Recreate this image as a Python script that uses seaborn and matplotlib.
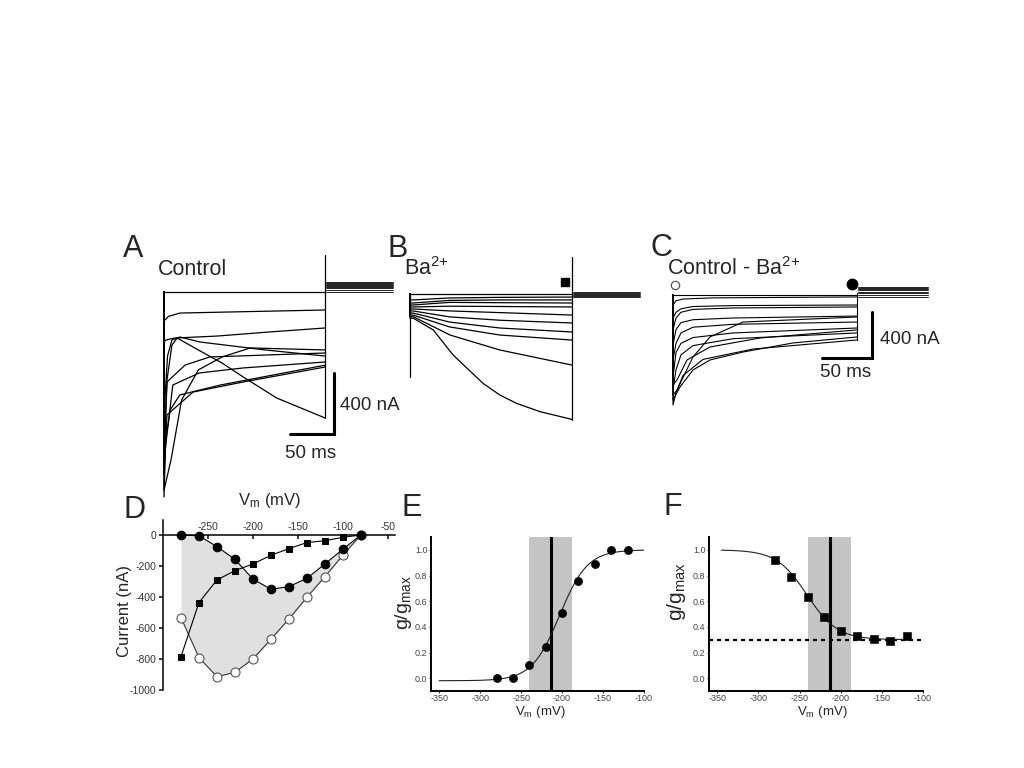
import numpy as np
import matplotlib
matplotlib.use("Agg")
import matplotlib.pyplot as plt
import seaborn as sns

# ---- traces (time in ms, current in nA) ----
A_TIMES = [
    [0, 183],
    [0, 1, 5, 18, 75, 183],
    [0, 2, 12, 60, 120, 183],
    [0, 1, 4, 9, 18, 41, 115, 183],
    [0, 3.4, 24, 52, 183],
    [0, 10, 40, 90, 183],
    [0, 3.4, 33, 90, 183],
    [0, 3.4, 9, 15, 39, 66, 90, 128, 183],
    [0, 8, 15, 20, 39, 66, 98, 183],
    [0, 2, 7, 18, 64, 183],
]
A_CURRENTS = [
    [0, 0],
    [-190, -184, -160, -138, -131, -118],
    [-330, -315, -302, -289, -262, -236],
    [-900, -708, -420, -315, -295, -328, -380, -420],
    [-1000, -590, -479, -426, -400],
    [-1100, -610, -531, -498, -459],
    [-1200, -806, -656, -590, -492],
    [-1170, -577, -348, -302, -380, -466, -557, -695, -826],
    [-1300, -1100, -872, -708, -511, -426, -367, -380],
    [-1344, -970, -773, -675, -610, -480],
]
A_TAILS = [66, 59, 52, 46, 39, 33, 26, 13, 0]
A_STEP_ARTIFACT = [243, -826]

B_TIMES = [
    [0, 184],
    [0, 3.4, 45, 102, 184],
    [0, 3.4, 45, 102, 184],
    [0, 3.4, 45, 102, 184],
    [0, 3.4, 45, 102, 184],
    [0, 3.4, 45, 102, 184],
    [0, 3.4, 45, 102, 184],
    [0, 3.4, 45, 102, 184],
    [0, 3.4, 45, 102, 184],
    [0, 3.8, 45.5, 102, 184],
    [0, 3.8, 26.5, 49, 83, 102, 121, 148, 184],
]
B_CURRENTS = [
    [0, 0],
    [-39, -39, -26, -22, -20],
    [-59, -59, -42, -39, -39],
    [-72, -72, -55, -57, -59],
    [-85, -85, -80, -82, -85],
    [-98, -98, -111, -122, -138],
    [-111, -111, -150, -172, -190],
    [-125, -125, -184, -223, -249],
    [-138, -138, -216, -269, -302],
    [-149, -149, -269, -367, -466],
    [-159, -159, -236, -400, -586, -662, -717, -772, -822],
]
B_TAILS = [10, 5, 0, -6, -12, -20]
B_ONSET_ARTIFACT = [0, -544]
B_STEP_ARTIFACT = [243, -826]

C_TIMES = [
    [0, 184],
    [0, 3, 10, 40, 184],
    [0, 3, 8, 20, 60, 184],
    [0, 3, 8, 20, 60, 184],
    [0, 3, 8, 20, 60, 184],
    [0, 3, 8, 20, 60, 184],
    [0, 4, 20, 37, 70, 184],
    [0, 3, 8, 20, 60, 184],
    [0, 3, 8, 20, 60, 184],
    [0, 7, 20, 37, 70, 120, 184],
    [0, 4, 14, 37, 87, 184],
    [0, 3, 10, 30, 80, 184],
]
C_CURRENTS = [
    [0, 0],
    [-87, -50, -35, -25, -17],
    [-200, -150, -120, -100, -92, -87],
    [-304, -200, -150, -125, -113, -104],
    [-435, -300, -240, -215, -200, -183],
    [-565, -420, -330, -280, -255, -235],
    [-870, -826, -539, -365, -235, -191],
    [-713, -500, -420, -370, -330, -287],
    [-826, -650, -520, -440, -380, -330],
    [-913, -800, -652, -565, -496, -417, -365],
    [-780, -739, -565, -452, -374, -304],
    [-957, -850, -700, -560, -470, -391],
]
C_TAILS = [70, 61, 52, 43, 30, 17, 0, -17]
C_STEP_ARTIFACT = [17, -391]

# ---- I-V (panel D) ----
D_V = [-280, -260, -240, -220, -200, -180, -160, -140, -120, -100, -80]
D_FILLED = [0, -5, -75, -157, -284, -350, -333, -280, -187, -92, 0]
D_SQUARE = [-785, -436, -290, -230, -187, -131, -88, -49, -37, -15, 0]
D_OPEN = [-533, -791, -914, -886, -800, -673, -542, -402, -269, -131, 0]

# ---- activation / inactivation (panels E, F) ----
E_V = [-280, -260, -240, -220, -200, -180, -160, -140, -120]
E_G = [0.0, 0.0, 0.10, 0.24, 0.51, 0.76, 0.89, 1.0, 1.0]
F_V = [-280, -260, -240, -220, -200, -180, -160, -140, -120]
F_G = [0.917, 0.787, 0.636, 0.48, 0.366, 0.332, 0.306, 0.288, 0.327]
E_FIT = dict(bottom=-0.02, top=1.0, vhalf=-203, k=17)
F_FIT = dict(bottom=0.30, top=1.0, vhalf=-241, k=18.5)
VHALF_LINE = -213
VHALF_BAND = (-240, -188)
F_RESIDUAL = 0.3

sns.set_theme(style="ticks")
plt.rcParams["font.family"] = ["Liberation Sans", "DejaVu Sans"]
plt.rcParams["mathtext.fontset"] = "custom"
plt.rcParams["mathtext.rm"] = "Liberation Sans"
plt.rcParams["mathtext.it"] = "Liberation Sans"
plt.rcParams["axes.unicode_minus"] = False

W, H = 1024, 768
fig = plt.figure(figsize=(W / 100, H / 100), dpi=100)
fig.patch.set_facecolor("white")


def box(x0, y0, x1, y1):
    return fig.add_axes([x0 / W, 1 - y1 / H, (x1 - x0) / W, (y1 - y0) / H])


def trace_axes(x0, y0, x1, y1, ox, oy, px_ms, px_na):
    ax = box(x0, y0, x1, y1)
    ax.set_xlim((x0 - ox) / px_ms, (x1 - ox) / px_ms)
    ax.set_ylim(-(y1 - oy) / px_na, -(y0 - oy) / px_na)
    ax.axis("off")
    return ax


def draw_traces(ax, times, currents, tails, tail_span, step_artifact, lw=0.9):
    for t, i in zip(times, currents):
        ax.plot([0] + t, [0] + i, color="black", lw=lw)
    for lev in tails:
        ax.plot(tail_span, [lev, lev], color="black", lw=0.6)
    ax.plot([tail_span[0] - 1] * 2, step_artifact, color="black", lw=lw)


def scale_bar(ax, t_right, i_top, ms=50, na=400, lw=2.2):
    ax.plot([t_right - ms, t_right, t_right], [i_top - na, i_top - na, i_top],
            color="black", lw=lw, solid_joinstyle="miter")


def boltz(v, bottom, top, vhalf, k, rising=True):
    s = 1 if rising else -1
    return bottom + (top - bottom) / (1 + np.exp(-s * (v - vhalf) / k))


LABEL_FS = 15.5
BAR_FS = 13.5
LETTER_FS = 22
BA = "Ba$^{\\mathrm{2{+}}}$"

# ---- A ----
axA = trace_axes(150, 230, 400, 505, 164, 292, 0.88, 0.1525)
draw_traces(axA, A_TIMES, A_CURRENTS, A_TAILS, [184, 260], A_STEP_ARTIFACT)
scale_bar(axA, 193, -531)
axA.text(200, -741, "400 nA", fontsize=BAR_FS, ha="left", va="center")
axA.text(166, -1062, "50 ms", fontsize=BAR_FS, ha="center", va="center")

# ---- B ----
axB = trace_axes(395, 240, 650, 440, 410, 294, 0.88, 0.1525)
draw_traces(axB, B_TIMES, B_CURRENTS, B_TAILS, [185, 261], B_STEP_ARTIFACT)
axB.plot([0, 0], B_ONSET_ARTIFACT, color="black", lw=0.9)
axB.plot([176], [79], marker="s", color="black", markersize=6)

# ---- C ----
axC = trace_axes(655, 270, 960, 420, 673, 295, 1.0, 0.115)
draw_traces(axC, C_TIMES, C_CURRENTS, C_TAILS, [185, 255], C_STEP_ARTIFACT, lw=0.8)
scale_bar(axC, 199, -148)
axC.text(207, -391, "400 nA", fontsize=BAR_FS, ha="left", va="center")
axC.text(173, -678, "50 ms", fontsize=BAR_FS, ha="center", va="center")
axC.plot([2], [87], marker="o", mfc="white", mec="#555", markersize=6, mew=0.9)
axC.plot([179], [96], marker="o", color="black", markersize=7.5)

# ---- D ----
axD = box(163, 519.5, 395, 690)
axD.set_xlim(-300, -42)
axD.set_ylim(-1000, 100)
axD.fill_between(D_V, D_OPEN, D_FILLED, color="#e0e0e0", lw=0, zorder=0)
sns.lineplot(x=D_V, y=D_OPEN, ax=axD, color="#333", lw=0.8, marker="o",
             markersize=6.5, mfc="white", mec="#555", mew=0.8, estimator=None, sort=False)
sns.lineplot(x=D_V, y=D_SQUARE, ax=axD, color="black", lw=0.8, marker="s",
             markersize=5, mfc="black", mec="black", estimator=None, sort=False)
sns.lineplot(x=D_V, y=D_FILLED, ax=axD, color="black", lw=0.8, marker="o",
             markersize=6.2, mfc="black", mec="black", estimator=None, sort=False)
axD.spines["top"].set_position(("data", 0))
axD.spines["bottom"].set_visible(False)
axD.spines["right"].set_visible(False)
axD.xaxis.set_ticks_position("top")
axD.set_xticks([-250, -200, -150, -100, -50])
axD.set_yticks([0, -200, -400, -600, -800, -1000])
axD.tick_params(axis="x", direction="in", length=3, pad=2, labelsize=7.5, labelcolor="#333")
axD.tick_params(axis="y", direction="out", length=3, pad=2, labelsize=7.5, labelcolor="#333")
for s in ("top", "left"):
    axD.spines[s].set_color("black")
    axD.spines[s].set_linewidth(1.1)
fig.text(270 / W, 1 - 501 / H, "V$_\\mathrm{m}$ (mV)", fontsize=12, ha="center", va="center")
fig.text(125 / W, 1 - 611 / H, "Current (nA)", fontsize=12, rotation=90, ha="center", va="center")


def style_gg(ax):
    ax.set_xlim(-360, -100)
    ax.set_ylim(-0.1, 1.1)
    ax.set_xticks([-350, -300, -250, -200, -150, -100])
    ax.set_yticks([0.0, 0.2, 0.4, 0.6, 0.8, 1.0])
    ax.set_yticklabels([f"{v:.1f}" for v in [0.0, 0.2, 0.4, 0.6, 0.8, 1.0]])
    ax.tick_params(direction="out", length=1.5, width=0.8, pad=1, labelsize=6.5, labelcolor="#444")
    for s in ("top", "right"):
        ax.spines[s].set_visible(False)
    for s in ("left", "bottom"):
        ax.spines[s].set_color("black")
        ax.spines[s].set_linewidth(1.4)
    ax.axvspan(*VHALF_BAND, color="#c4c4c4", lw=0, zorder=0)
    ax.axvline(VHALF_LINE, color="black", lw=2.2, zorder=1)
    ax.set_xlabel("")
    ax.set_ylabel("")


# ---- E ----
axE = box(431, 537, 644, 691)
style_gg(axE)
v_e = np.linspace(-350, -100, 200)
sns.lineplot(x=v_e, y=boltz(v_e, **E_FIT), ax=axE, color="#222", lw=0.8)
sns.scatterplot(x=E_V, y=E_G, ax=axE, color="black", s=34, marker="o",
                edgecolor="black", zorder=3)
fig.text(403 / W, 1 - 603 / H, "g/g$_\\mathrm{max}$", fontsize=14, rotation=90, ha="center", va="center")
fig.text(540 / W, 1 - 712 / H, "V$_\\mathrm{m}$ (mV)", fontsize=9.5, ha="center", va="center")

# ---- F ----
axF = box(709, 537, 923, 691)
style_gg(axF)
axF.axhline(F_RESIDUAL, color="black", lw=1.6, ls=(0, (1.8, 1.8)), zorder=1)
v_f = np.linspace(-345, -120, 200)
sns.lineplot(x=v_f, y=boltz(v_f, rising=False, **F_FIT), ax=axF, color="#222", lw=0.8)
sns.scatterplot(x=F_V, y=F_G, ax=axF, color="black", s=28, marker="s",
                edgecolor="black", zorder=3)
fig.text(677 / W, 1 - 592 / H, "g/g$_\\mathrm{max}$", fontsize=15, rotation=90, ha="center", va="center")
fig.text(822 / W, 1 - 712 / H, "V$_\\mathrm{m}$ (mV)", fontsize=9.5, ha="center", va="center")

# ---- text labels ----
for letter, x, y in [("A", 123, 249), ("B", 388, 249), ("C", 650, 248),
                     ("D", 124, 510), ("E", 402, 508), ("F", 664, 507)]:
    fig.text(x / W, 1 - y / H, letter, fontsize=LETTER_FS, ha="left", va="center")
fig.text(158 / W, 1 - 269 / H, "Control", fontsize=LABEL_FS, ha="left", va="center")
fig.text(404 / W, 1 - 269 / H, BA, fontsize=LABEL_FS, ha="left", va="center")
fig.text(667 / W, 1 - 269 / H, "Control - " + BA, fontsize=LABEL_FS, ha="left", va="center")

fig.savefig("out.png", dpi=100, facecolor="white")
